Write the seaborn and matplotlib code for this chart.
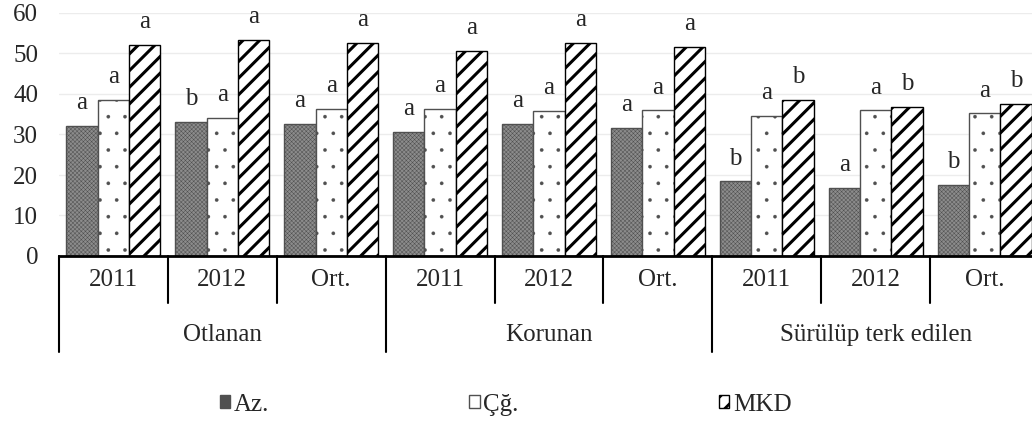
import matplotlib
matplotlib.use('Agg')
import matplotlib.pyplot as plt
import seaborn as sns
import pandas as pd

# veri
gruplar = ['Otlanan', 'Korunan', 'Sürülüp terk edilen']
yillar = ['2011', '2012', 'Ort.']
seriler = ['Az.', 'Çğ.', 'MKD']

az = [32.2, 33.2, 32.7, 30.6, 32.6, 31.6, 18.4, 16.8, 17.6]
cg = [38.6, 34.1, 36.3, 36.3, 35.8, 36.0, 34.6, 36.0, 35.2]
mkd = [52.1, 53.3, 52.6, 50.6, 52.6, 51.6, 38.5, 36.8, 37.6]

harf_az = ['a', 'b', 'a', 'a', 'a', 'a', 'b', 'a', 'b']
harf_cg = ['a', 'a', 'a', 'a', 'a', 'a', 'a', 'a', 'a']
harf_mkd = ['a', 'a', 'a', 'a', 'a', 'a', 'b', 'b', 'b']

sns.set_style('white')
plt.rcParams['font.family'] = ['Liberation Serif', 'DejaVu Serif']
plt.rcParams['hatch.linewidth'] = 2.0

# uzun tablo
kayit = []
for s, vals in zip(seriler, [az, cg, mkd]):
    for i, v in enumerate(vals):
        kayit.append({'kat': gruplar[i // 3] + '|' + yillar[i % 3], 'seri': s, 'deger': v})
df = pd.DataFrame(kayit)
sira = [g + '|' + y for g in gruplar for y in yillar]

fig = plt.figure(figsize=(10.32, 4.23), dpi=100)
ax = fig.add_axes([59 / 1032, 167 / 423, 980 / 1032, 243 / 423])

sns.barplot(data=df, x='kat', y='deger', hue='seri', order=sira, hue_order=seriler,
            width=0.864, ax=ax, legend=False)

# desenler
stiller = [
    dict(fc='#8c8c8c', hatch='xxxxxxxx', ec='#505050', hlw=0.35),
    dict(fc='white', hatch='.', ec='#505050', hlw=0.2),
    dict(fc='white', hatch='//', ec='black', hlw=2.2),
]
for cont, st in zip(ax.containers, stiller):
    for p in cont.patches:
        p.set_facecolor(st['fc'])
        p.set_edgecolor(st['ec'])
        p.set_hatch(st['hatch'])
        p.set_linewidth(1.0)
        if hasattr(p, 'set_hatch_linewidth'):
            p.set_hatch_linewidth(st['hlw'])

# harfler
for cont, harfler in zip(ax.containers, [harf_az, harf_cg, harf_mkd]):
    for p, h in zip(cont.patches, harfler):
        ax.annotate(h, (p.get_x() + p.get_width() / 2, p.get_height()),
                    xytext=(0, 12), textcoords='offset points',
                    ha='center', va='baseline', fontsize=18)

ax.set_ylim(0, 60)
ax.set_xlim(-0.5, 8.5)
ax.set_yticks(range(0, 61, 10))
ax.yaxis.grid(True, color='#ececec', lw=1)
ax.set_axisbelow(True)
ax.set_xlabel('')
ax.set_ylabel('')
ax.set_xticks(range(9))
ax.set_xticklabels(yillar * 3)
ax.tick_params(axis='x', length=0, pad=9, labelsize=18)
ax.tick_params(axis='y', length=0, pad=15, labelsize=18)
for k in ['left', 'right', 'top']:
    ax.spines[k].set_visible(False)
ax.spines['bottom'].set_color('black')
ax.spines['bottom'].set_linewidth(2)

# alt eksen ayiraclari
tr = ax.get_xaxis_transform()
for i in range(10):
    alt = -0.395 if i % 3 == 0 else -0.193
    ax.plot([i - 0.5, i - 0.5], [0, alt], transform=tr, color='black', lw=1.5, clip_on=False)
for j, g in enumerate(gruplar):
    ax.text(j * 3 + 1, -0.325, g, transform=tr, ha='center', va='center', fontsize=18)

ax.legend(ax.containers, seriler, loc='center', bbox_to_anchor=(0.49, 0.043),
          bbox_transform=fig.transFigure, ncol=3, frameon=False, fontsize=18,
          handlelength=0.42, handleheight=0.42, handletextpad=0.15, columnspacing=8.0)

fig.savefig('out.png', dpi=100)
